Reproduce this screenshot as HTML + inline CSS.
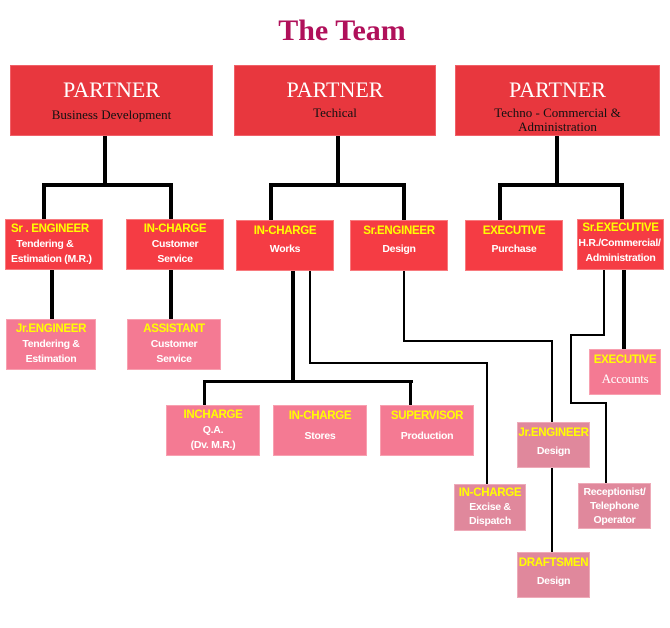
<!DOCTYPE html>
<html><head><style>
body{margin:0;width:670px;height:628px;background:#fff;position:relative;overflow:hidden;font-family:"Liberation Sans",sans-serif}
.b{position:absolute;box-sizing:border-box;text-align:center;color:#fff;font-size:10.5px;line-height:15px;font-weight:bold;letter-spacing:-0.3px}
.t{background:#e8373e;border:1px solid #f06068;letter-spacing:0}
.t .p{font-family:"Liberation Serif",serif;font-size:22px;color:#fff;font-weight:normal;margin-top:12px;line-height:24px}
.t .s{font-family:"Liberation Serif",serif;font-size:13px;color:#111;font-weight:normal;line-height:14px;margin-top:4px}
.r{background:#f53c44;border:1px solid #f87a7e;padding-top:2px}
.k{background:#f47a93;border:1px solid #f8a0b0;padding-top:2px}
.d{background:#e0889c;border:1px solid #eeaab8;padding-top:2px}
.y{color:#ffff00;font-size:11.5px;display:block}
.l{position:absolute;background:#000}
</style></head><body>
<div style="position:absolute;left:0;width:684px;top:14px;text-align:center;font-family:'Liberation Serif',serif;font-size:30px;font-weight:bold;color:#b0105a">The Team</div>

<div class="b t" style="left:10px;top:65px;width:203px;height:71px"><div class="p">PARTNER</div><div class="s" style="margin-top:6px">Business Development</div></div>
<div class="b t" style="left:234px;top:65px;width:202px;height:71px"><div class="p">PARTNER</div><div class="s">Techical</div></div>
<div class="b t" style="left:455px;top:65px;width:205px;height:71px"><div class="p">PARTNER</div><div class="s">Techno - Commercial &amp;<br>Administration</div></div>

<div class="l" style="left:103px;top:136px;width:4px;height:50px"></div>
<div class="l" style="left:42px;top:183px;width:131px;height:4px"></div>
<div class="l" style="left:42px;top:183px;width:4px;height:36px"></div>
<div class="l" style="left:169px;top:183px;width:4px;height:36px"></div>
<div class="l" style="left:336px;top:136px;width:4px;height:50px"></div>
<div class="l" style="left:269px;top:183px;width:137px;height:4px"></div>
<div class="l" style="left:269px;top:183px;width:4px;height:37px"></div>
<div class="l" style="left:402px;top:183px;width:4px;height:37px"></div>
<div class="l" style="left:555px;top:136px;width:4px;height:50px"></div>
<div class="l" style="left:498px;top:183px;width:126px;height:4px"></div>
<div class="l" style="left:498px;top:183px;width:4px;height:37px"></div>
<div class="l" style="left:620px;top:183px;width:4px;height:37px"></div>

<div class="l" style="left:50px;top:270px;width:4px;height:49px"></div>
<div class="l" style="left:169px;top:270px;width:4px;height:49px"></div>
<div class="l" style="left:291px;top:271px;width:4px;height:112px"></div>
<div class="l" style="left:203px;top:380px;width:210px;height:3px"></div>
<div class="l" style="left:203px;top:380px;width:3px;height:25px"></div>
<div class="l" style="left:409px;top:380px;width:3px;height:25px"></div>
<div class="l" style="left:622px;top:270px;width:4px;height:79px"></div>
<div class="l" style="left:309px;top:271px;width:2px;height:93px"></div>
<div class="l" style="left:309px;top:362px;width:179px;height:2px"></div>
<div class="l" style="left:486px;top:362px;width:2px;height:123px"></div>
<div class="l" style="left:403px;top:271px;width:2px;height:71px"></div>
<div class="l" style="left:403px;top:340px;width:150px;height:2px"></div>
<div class="l" style="left:551px;top:340px;width:2px;height:212px"></div>
<div class="l" style="left:603px;top:270px;width:2px;height:66px"></div>
<div class="l" style="left:570px;top:334px;width:35px;height:2px"></div>
<div class="l" style="left:570px;top:334px;width:2px;height:70px"></div>
<div class="l" style="left:570px;top:402px;width:37px;height:2px"></div>
<div class="l" style="left:605px;top:402px;width:2px;height:81px"></div>

<div class="b r" style="left:5px;top:219px;width:98px;height:51px;text-align:left;padding-left:5px"><span class="y">Sr . ENGINEER</span>&nbsp;&nbsp;Tendering &amp;<br>Estimation (M.R.)</div>
<div class="b r" style="left:126px;top:219px;width:98px;height:51px"><span class="y">IN-CHARGE</span>Customer<br>Service</div>
<div class="b r" style="left:236px;top:220px;width:98px;height:51px;padding-top:3px"><span class="y" style="margin-bottom:3px">IN-CHARGE</span>Works</div>
<div class="b r" style="left:350px;top:220px;width:98px;height:51px;padding-top:3px"><span class="y" style="margin-bottom:3px">Sr.ENGINEER</span>Design</div>
<div class="b r" style="left:465px;top:220px;width:98px;height:51px;padding-top:3px"><span class="y" style="margin-bottom:3px">EXECUTIVE</span>Purchase</div>
<div class="b r" style="left:577px;top:219px;width:87px;height:51px;padding-top:1px"><span class="y">Sr.EXECUTIVE</span><span style="white-space:nowrap;margin-left:-2px">H.R./Commercial/</span><br>Administration</div>

<div class="b k" style="left:6px;top:319px;width:90px;height:51px"><span class="y">Jr.ENGINEER</span>Tendering &amp;<br>Estimation</div>
<div class="b k" style="left:127px;top:319px;width:94px;height:51px"><span class="y">ASSISTANT</span>Customer<br>Service</div>
<div class="b k" style="left:166px;top:405px;width:94px;height:51px"><span class="y">INCHARGE</span>Q.A.<br>(Dv. M.R.)</div>
<div class="b k" style="left:273px;top:405px;width:94px;height:51px;padding-top:3px"><span class="y" style="margin-bottom:5px">IN-CHARGE</span>Stores</div>
<div class="b k" style="left:380px;top:405px;width:94px;height:51px;padding-top:3px"><span class="y" style="margin-bottom:5px">SUPERVISOR</span>Production</div>
<div class="b k" style="left:589px;top:349px;width:72px;height:46px;padding-top:3px"><span class="y" style="margin-bottom:3px">EXECUTIVE</span><span style="font-family:'Liberation Serif',serif;font-size:13px;font-weight:normal">Accounts</span></div>
<div class="b d" style="left:517px;top:422px;width:73px;height:46px;padding-top:3px"><span class="y" style="margin-bottom:3px">Jr.ENGINEER</span>Design</div>
<div class="b d" style="left:454px;top:484px;width:72px;height:47px;padding-top:1px;line-height:14px"><span class="y">IN-CHARGE</span>Excise &amp;<br>Dispatch</div>
<div class="b d" style="left:578px;top:483px;width:73px;height:46px;padding-top:1px;line-height:14px">Receptionist/<br>Telephone<br>Operator</div>
<div class="b d" style="left:517px;top:552px;width:73px;height:46px;padding-top:3px"><span class="y" style="margin-bottom:3px">DRAFTSMEN</span>Design</div>
</body></html>
